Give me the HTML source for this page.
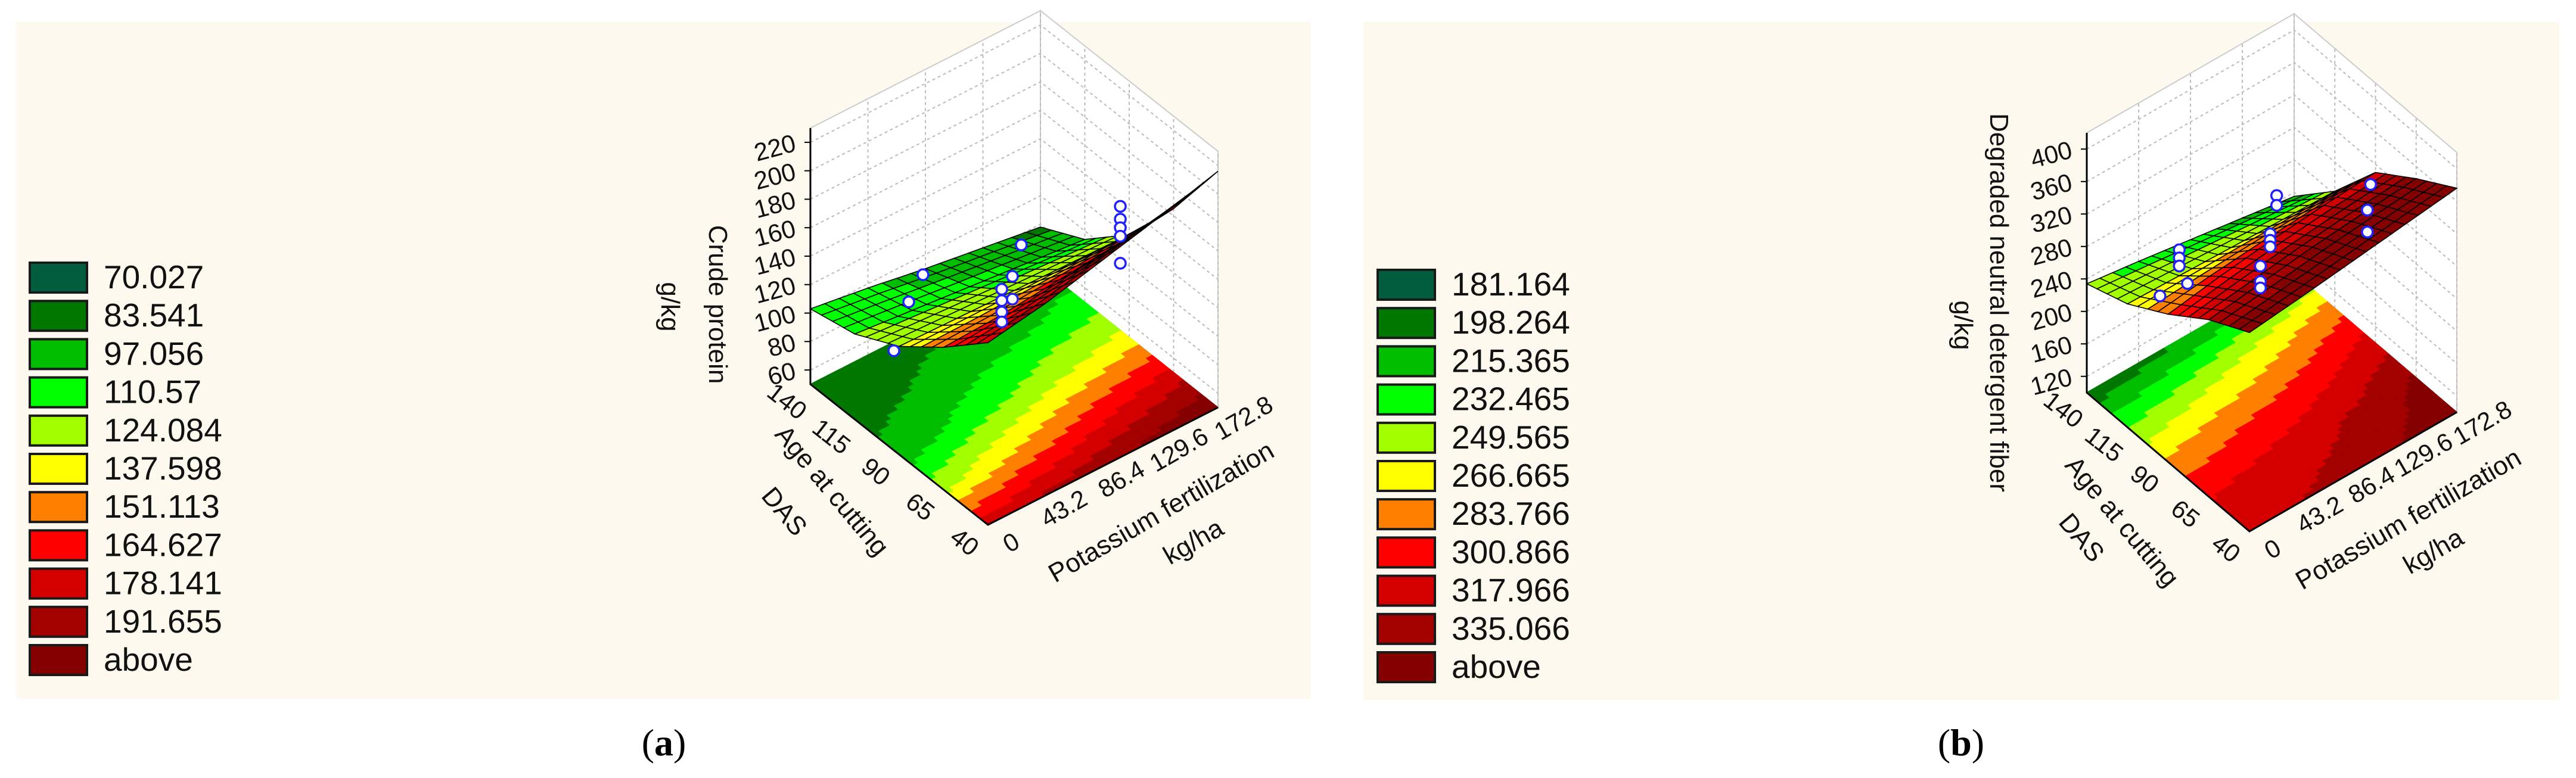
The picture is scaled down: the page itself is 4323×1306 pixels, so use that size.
<!DOCTYPE html>
<html><head><meta charset="utf-8"><style>
html,body{margin:0;padding:0;background:#fff;}
svg{display:block;font-family:"Liberation Sans",sans-serif;}
</style></head><body>
<svg id="fig" width="4323" height="1306" viewBox="0 0 4323 1306" xmlns="http://www.w3.org/2000/svg">
<rect x="27" y="37" width="2173" height="1136" fill="#fdf9ee"/>
<rect x="2288" y="37" width="2007" height="1138" fill="#fdf9ee"/>
<g id="pa"></g>
<g id="pb"></g>
<g id="la"></g>
<g id="lb"></g>
<text x="1114" y="1268" text-anchor="middle" font-family="Liberation Serif,serif" font-size="64">(<tspan font-weight="bold">a</tspan>)</text>
<text x="3291" y="1268" text-anchor="middle" font-family="Liberation Serif,serif" font-size="64">(<tspan font-weight="bold">b</tspan>)</text>
</svg>
<script>
// ---------- data ----------
const kTicks = [0, 43.2, 86.4, 129.6, 172.8];
const ageTicks = [40, 65, 90, 115, 140];
const zTicksA = [60, 80, 100, 120, 140, 160, 180, 200, 220];
const zTicksB = [120, 160, 200, 240, 280, 320, 360, 400];
const levelsA = [70.027, 83.541, 97.056, 110.57, 124.084, 137.598, 151.113, 164.627, 178.141, 191.655];
const levelsB = [181.164, 198.264, 215.365, 232.465, 249.565, 266.665, 283.766, 300.866, 317.966, 335.066];
const levelLabelsA = ["70.027","83.541","97.056","110.57","124.084","137.598","151.113","164.627","178.141","191.655","above"];
const levelLabelsB = ["181.164","198.264","215.365","232.465","249.565","266.665","283.766","300.866","317.966","335.066","above"];
// surface grid: rows = ageTicks, cols = kTicks
const gridA = [
  [178, 185, 195, 205, 216],
  [150, 152, 156, 160, 165],
  [126, 125, 124, 123, 122],
  [110, 106, 102, 98, 94],
  [103, 97, 90, 84, 78]
];
const gridB = [
  [345, 352, 360, 368, 376],
  [318, 326, 334, 340, 345],
  [282, 292, 300, 306, 310],
  [252, 250, 248, 246, 244],
  [234, 225, 215, 205, 195]
];
// floor contour grids: rows = ageTicks, cols = kTicks
const contourA = [
  [172, 180, 188, 196, 205],
  [120, 135, 148, 160, 170],
  [88, 100, 112, 122, 130],
  [78, 84, 90, 96, 102],
  [72, 76, 80, 84, 88]
];
const contourB = [
  [312, 318, 325, 335, 350],
  [300, 305, 312, 322, 338],
  [270, 278, 285, 295, 310],
  [232, 240, 250, 262, 278],
  [185, 192, 200, 210, 225]
];
// observed points
const ptsAk = [0, 43.2, 43.2, 86.4, 86.4, 86.4, 86.4, 86.4, 86.4, 86.4, 172.8, 172.8, 172.8, 172.8, 172.8];
const ptsAa = [93, 109, 117, 86, 97, 97, 97, 97, 91, 91, 95, 95, 95, 95, 95];
const ptsAz = [120, 137, 110, 160, 118, 110, 102, 95, 133, 117, 137, 128, 122, 116, 97];
const ptsBk = [43.2, 43.2, 43.2, 0, 43.2, 86.4, 86.4, 86.4, 86.4, 86.4, 86.4, 86.4, 86.4, 172.8, 172.8, 172.8];
const ptsBa = [115, 115, 115, 95, 110, 87, 87, 91, 91, 91, 97, 97, 97, 93, 95, 95];
const ptsBz = [282, 272, 262, 296, 249, 360, 348, 306, 298, 290, 256, 237, 229, 290, 255, 228];
const colors = ["#005e3f","#007800","#00bd00","#00ff00","#a2ff00","#ffff00","#ff8000","#ff0000","#d40000","#a30000","#850000"];

const NS = "http://www.w3.org/2000/svg";
function el(parent, tag, attrs){ const e=document.createElementNS(NS,tag); for(const k in attrs) e.setAttribute(k,attrs[k]); parent.appendChild(e); return e; }

function colorFor(z, levels){ for(let i=0;i<levels.length;i++){ if(z<=levels[i]) return colors[i]; } return colors[colors.length-1]; }
function bil(grid, u, v){
  const n=grid.length-1; let i=Math.min(Math.floor(v),n-1), j=Math.min(Math.floor(u),n-1);
  const fv=v-i, fu=u-j;
  return grid[i][j]*(1-fu)*(1-fv)+grid[i][j+1]*fu*(1-fv)+grid[i+1][j]*(1-fu)*fv+grid[i+1][j+1]*fu*fv;
}

function drawPanel(g, cfg){
  const P=(k,a,z)=>[cfg.O[0]+cfg.ex[0]*k/172.8+cfg.ey[0]*(a-40)/100, cfg.O[1]+cfg.ex[1]*k/172.8+cfg.ey[1]*(a-40)/100-(z-cfg.zmin)*cfg.s];
  const pts=arr=>arr.map(p=>p[0].toFixed(1)+","+p[1].toFixed(1)).join(" ");
  const zmin=cfg.zmin, zmax=cfg.zmax;
  const w1=el(g,"polygon",{points:pts([P(0,140,zmin),P(172.8,140,zmin),P(172.8,140,zmax),P(0,140,zmax)]),fill:"#fff",stroke:"#ccc","stroke-width":2});
   
  const w2=el(g,"polygon",{points:pts([P(172.8,140,zmin),P(172.8,40,zmin),P(172.8,40,zmax),P(172.8,140,zmax)]),fill:"#fff",stroke:"#ccc","stroke-width":2});
   
  const grid=el(g,"g",{stroke:"#bbb","stroke-width":2,"stroke-dasharray":"5,5",fill:"none"});
   
  cfg.zTicks.forEach(z=>{ el(grid,"polyline",{points:pts([P(0,140,z),P(172.8,140,z),P(172.8,40,z)])}); });
  kTicks.forEach(k=>{ el(grid,"line",{x1:P(k,140,zmin)[0],y1:P(k,140,zmin)[1],x2:P(k,140,zmax)[0],y2:P(k,140,zmax)[1]}); });
  ageTicks.forEach(a=>{ el(grid,"line",{x1:P(172.8,a,zmin)[0],y1:P(172.8,a,zmin)[1],x2:P(172.8,a,zmax)[0],y2:P(172.8,a,zmax)[1]}); });
  const fl=el(g,"g",{});
   
  const N=4, F=40;
  for(let i=0;i<F;i++) for(let j=0;j<F;j++){
    const u0=j*N/F,u1=(j+1)*N/F,v0=i*N/F,v1=(i+1)*N/F;
    const z=bil(cfg.contour,(u0+u1)/2,(v0+v1)/2);
    const c=colorFor(z,cfg.levels);
    const kk=u=>u*172.8/N, aa=v=>40+v*100/N;
    el(fl,"polygon",{points:pts([P(kk(u0),aa(v0),zmin),P(kk(u1),aa(v0),zmin),P(kk(u1),aa(v1),zmin),P(kk(u0),aa(v1),zmin)]),fill:c,stroke:c,"stroke-width":1.5});
  }
  const ax=el(g,"g",{stroke:"#000","stroke-width":3,fill:"none"});
   
  el(ax,"polyline",{points:pts([P(0,140,zmax),P(0,140,zmin),P(0,40,zmin),P(172.8,40,zmin)])});
  cfg.zTicks.forEach(z=>{ const p=P(0,140,z); el(ax,"line",{x1:p[0]-10,y1:p[1],x2:p[0],y2:p[1],"stroke-width":2}); });
  const sf=el(g,"g",{stroke:"#000","stroke-width":1.6});
   
  const S=16, cells=[];
  for(let i=0;i<S;i++) for(let j=0;j<S;j++) cells.push([i,j]);
  cells.sort((a,b)=>(b[0]+b[1])-(a[0]+a[1]));
  cells.forEach(([i,j])=>{
    const u0=j*N/S,u1=(j+1)*N/S,v0=i*N/S,v1=(i+1)*N/S;
    const kk=u=>u*172.8/N, aa=v=>40+v*100/N;
    const z=bil(cfg.grid,(u0+u1)/2,(v0+v1)/2);
    el(sf,"polygon",{points:pts([P(kk(u0),aa(v0),bil(cfg.grid,u0,v0)),P(kk(u1),aa(v0),bil(cfg.grid,u1,v0)),P(kk(u1),aa(v1),bil(cfg.grid,u1,v1)),P(kk(u0),aa(v1),bil(cfg.grid,u0,v1))]),fill:colorFor(z,cfg.levels)});
  });
  const pg=el(g,"g",{});
   
  cfg.pk.forEach((k,i)=>{
    const p=P(k,cfg.pa[i],cfg.pz[i]);
    const c=el(pg,"circle",{cx:p[0],cy:p[1],r:9,fill:"#fff",stroke:"#2020ff","stroke-width":3.5});
     
  });
  const tl=el(g,"g",{"font-size":42,fill:"#111"});
   
  cfg.zTicks.forEach(z=>{ const p=P(0,140,z); const x=p[0]-22,y=p[1]+14;
    const t=el(tl,"text",{x:x,y:y,"text-anchor":"end",transform:`rotate(-15 ${x} ${y})`}); t.textContent=z; });
  ageTicks.forEach((a,i)=>{ const p=P(0,a,zmin); const x=p[0]-48,y=p[1]+40;
    const t=el(tl,"text",{x:x,y:y,"text-anchor":"middle",transform:`rotate(38 ${x} ${y})`}); t.textContent=a; });
  kTicks.forEach((k,i)=>{ const p=P(k,40,zmin); const x=p[0]+(i==4?50:38)+(i==0?8:0),y=p[1]+(i==4?30:34)+(i==0?8:0);
    const t=el(tl,"text",{x:x,y:y,"text-anchor":"middle",transform:`rotate(-30 ${x} ${y})`}); t.textContent=k; });
  cfg.titles.forEach(tt=>{
    const t=el(g,"text",{x:tt[1],y:tt[2],"text-anchor":"middle","font-size":44,fill:"#111",transform:`rotate(${tt[3]} ${tt[1]} ${tt[2]})`});
     
    t.textContent=tt[0];
  });
}

drawPanel(document.getElementById("pa"),{O:[1658,881],ex:[386,-197],ey:[-298,-236],zmin:50,zmax:230,s:430/180,
  grid:gridA,contour:contourA,levels:levelsA,zTicks:zTicksA,pk:ptsAk,pa:ptsAa,pz:ptsAz,
  titles:[["Crude protein",1190,511,90,"z-axis-title"],["g/kg",1110,515,90,"z-axis-unit"],
          ["Age at cutting",1385,833,50,"age-axis-title"],["DAS",1305,868,50,"age-axis-unit"],
          ["Potassium fertilization",1956,872,-30,"potassium-axis-title"],["kg/ha",2010,922,-30,"potassium-axis-unit"]]});
drawPanel(document.getElementById("pb"),{O:[3775,892],ex:[348,-200],ey:[-273,-233],zmin:100,zmax:420,s:436/320,
  grid:gridB,contour:contourB,levels:levelsB,zTicks:zTicksB,pk:ptsBk,pa:ptsBa,pz:ptsBz,
  titles:[["Degraded neutral detergent fiber",3340,508,90,"z-axis-title"],["g/kg",3280,546,90,"z-axis-unit"],
          ["Age at cutting",3550,885,50,"age-axis-title"],["DAS",3482,912,50,"age-axis-unit"],
          ["Potassium fertilization",4049,884,-30,"potassium-axis-title"],["kg/ha",4091,938,-30,"potassium-axis-unit"]]});

function legend(g, x0, y0, labels){
  labels.forEach((lab,i)=>{
    const y=y0+i*64.2;
    const r=el(g,"rect",{x:x0,y:y,width:96,height:50,fill:colors[i],stroke:"#1a1a1a","stroke-width":4});
     
    const t=el(g,"text",{x:x0+124,y:y+43,"font-size":55,fill:"#111"});
     
    t.textContent=lab;
  });
}
legend(document.getElementById("la"),50,441,levelLabelsA);
legend(document.getElementById("lb"),2312,453,levelLabelsB);
</script>
</body></html>
